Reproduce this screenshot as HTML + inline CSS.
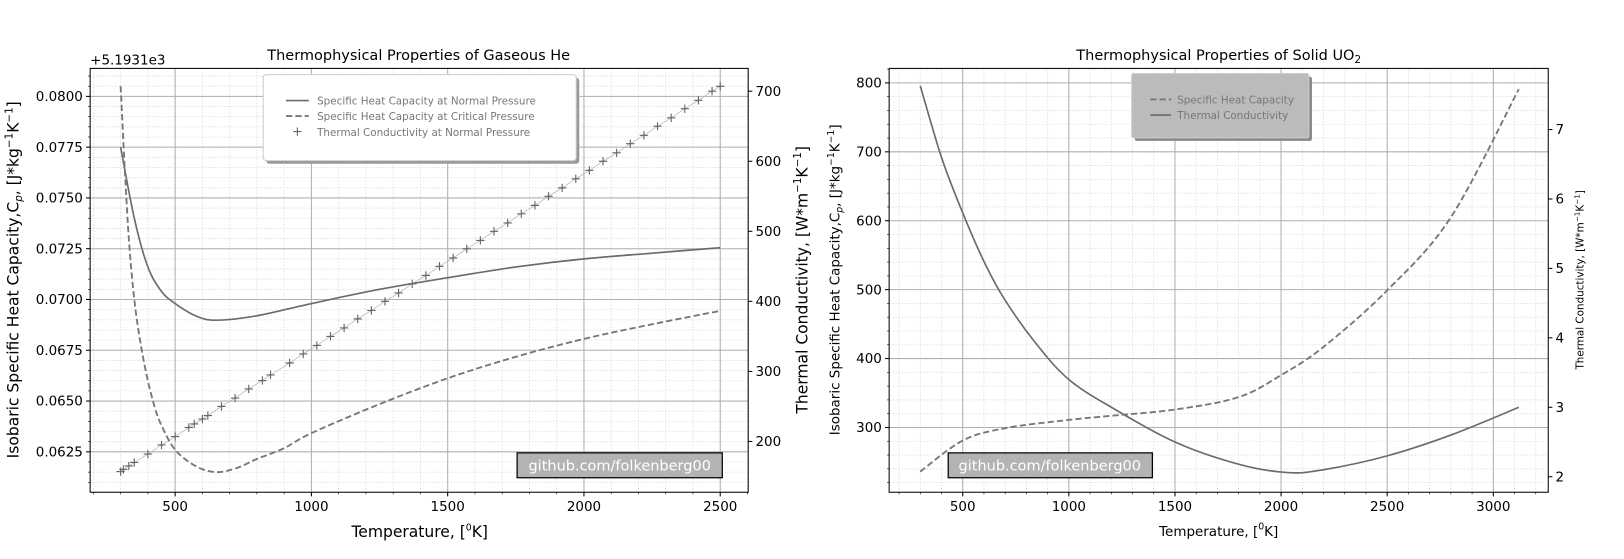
<!DOCTYPE html>
<html><head><meta charset="utf-8"><style>
body{margin:0;background:#fff;width:1624px;height:554px;overflow:hidden}
svg{font-family:"DejaVu Sans","Liberation Sans",sans-serif}
</style></head><body>
<svg id="s" width="1624" height="554"><g id="root" transform="scale(1.0363)"></g></svg>
<script>
// ---- data: Gaseous He ----
const heT = [300,350,400,450,500,575,650,800,1000,1250,1500,1750,2000,2250,2500];
const heCpNormal = [0.0775,0.0740,0.0716,0.0704,0.0698,0.0692,0.06898,0.0692,0.0698,0.0705,0.07107,0.0716,0.0720,0.07228,0.07255];
const heCritT = [300,315,330,350,375,400,425,450,500,575,650,725,800,900,1000,1250,1500,1750,2000,2250,2500];
const heCpCritical = [0.0805,0.0765,0.0730,0.0700,0.0677,0.0660,0.0647,0.0638,0.0626,0.0618,0.0615,0.0617,0.06215,0.06268,0.06342,0.06485,0.06612,0.06718,0.06806,0.06878,0.06944];
const heKT = [300,310,330,350,400,450,500,550,570,600,620,670,720,770,820,850,920,970,1020,1070,1120,1170,1220,1270,1320,1370,1420,1470,1520,1570,1620,1670,1720,1770,1820,1870,1920,1970,2020,2070,2120,2170,2220,2270,2320,2370,2420,2470,2500];
const heK = [157,160,165,170,182,195,207,220,225,232,237,250,262,275,287,295,312,325,337,350,362,375,387,400,412,425,437,450,462,475,487,500,512,525,537,550,562,575,587,600,612,625,637,650,662,675,687,700,707];
const heXTicks = [500,1000,1500,2000,2500];
const heYTicks = [0.0625,0.0650,0.0675,0.0700,0.0725,0.0750,0.0775,0.0800];
const heY2Ticks = [200,300,400,500,600,700];
// ---- data: Solid UO2 ----
const uoT = [300,500,700,1000,1200,1500,1800,2000,2200,2500,2800,3120];
const uoCp = [236,281,299,311,317,326,344,376,417,499,605,791];
const uoKT = [300,400,500,600,700,850,1000,1200,1500,1800,2030,2200,2500,2800,3120];
const uoK = [7.63,6.6,5.8,5.1,4.54,3.9,3.4,3.0,2.5,2.18,2.06,2.1,2.3,2.6,3.0];
const uoXTicks = [500,1000,1500,2000,2500,3000];
const uoYTicks = [300,400,500,600,700,800];
const uoY2Ticks = [2,3,4,5,6,7];

const S=document.getElementById('root'),NS='http://www.w3.org/2000/svg';
function el(t,a,p){const e=document.createElementNS(NS,t);for(const k in a)e.setAttribute(k,a[k]);(p||S).appendChild(e);return e;}
function txt(x,y,s,a,p){const e=el('text',Object.assign({x:x,y:y,fill:'#000','font-size':13},a),p);e.innerHTML=s;return e;}
function lin(d0,d1,r0,r1){return v=>r0+(v-d0)*(r1-r0)/(d1-d0);}
function path(xs,ys,fx,fy){
  const P=xs.map((v,i)=>[fx(v),fy(ys[i])]);
  let d='M'+P[0][0].toFixed(1)+','+P[0][1].toFixed(1);
  for(let i=0;i<P.length-1;i++){
    const p0=P[Math.max(0,i-1)],p1=P[i],p2=P[i+1],p3=P[Math.min(P.length-1,i+2)];
    const c1=[p1[0]+(p2[0]-p0[0])/6,p1[1]+(p2[1]-p0[1])/6];
    const c2=[p2[0]-(p3[0]-p1[0])/6,p2[1]-(p3[1]-p1[1])/6];
    d+='C'+c1[0].toFixed(1)+','+c1[1].toFixed(1)+' '+c2[0].toFixed(1)+','+c2[1].toFixed(1)+' '+p2[0].toFixed(1)+','+p2[1].toFixed(1);
  }
  return d;
}

function axes(box,fx,fy,fy2,xr,yr,xmin,ymin,xt,yt,y2t,yfmt,y2fmt,name){
  const g=el('g',{});
  
  
  el('rect',{x:box.x0,y:box.y0,width:box.x1-box.x0,height:box.y1-box.y0,fill:'#fff'},g);
  for(let v=Math.ceil(xr[0]/xmin)*xmin;v<=xr[1];v+=xmin){const x=fx(v);el('line',{x1:x,x2:x,y1:box.y0,y2:box.y1,stroke:'#ddd','stroke-width':0.8,'stroke-dasharray':'1.5,1.5'},g);el('line',{x1:x,x2:x,y1:box.y1,y2:box.y1+2,stroke:'#000','stroke-width':0.6},g);}
  for(let i=Math.ceil(yr[0]/ymin);i*ymin<=yr[1];i++){const y=fy(i*ymin);el('line',{x1:box.x0,x2:box.x1,y1:y,y2:y,stroke:'#ddd','stroke-width':0.8,'stroke-dasharray':'1.5,1.5'},g);el('line',{x1:box.x0-2,x2:box.x0,y1:y,y2:y,stroke:'#000','stroke-width':0.6},g);}
  xt.forEach(v=>{const x=fx(v);el('line',{x1:x,x2:x,y1:box.y0,y2:box.y1,stroke:'#b0b0b0','stroke-width':1},g);el('line',{x1:x,x2:x,y1:box.y1,y2:box.y1+4,stroke:'#000'},g);txt(x,box.y1+18,String(v),{'text-anchor':'middle'},g);});
  yt.forEach(v=>{const y=fy(v);el('line',{x1:box.x0,x2:box.x1,y1:y,y2:y,stroke:'#b0b0b0','stroke-width':1},g);el('line',{x1:box.x0-4,x2:box.x0,y1:y,y2:y,stroke:'#000'},g);txt(box.x0-7,y+4.5,yfmt(v),{'text-anchor':'end'},g);});
  y2t.forEach(v=>{const y=fy2(v);el('line',{x1:box.x1,x2:box.x1+4,y1:y,y2:y,stroke:'#000'},g);txt(box.x1+7,y+4.5,y2fmt(v),{},g);});
  return g;
}

// ===== Left chart =====
const B1={x0:87,x1:722,y0:66,y1:475};
const fx1=lin(500,2500,169,695), fy1=lin(0.0800,0.0625,93,436), fk1=lin(700,200,88,426);
const g1=axes(B1,fx1,fy1,fk1,[188,2603],[0.0606,0.0813],100,0.0005,heXTicks,heYTicks,heY2Ticks,v=>v.toFixed(4),v=>String(v),'he-chart');
let p=el('path',{d:path(heKT,heK,fx1,fk1),fill:'none',stroke:'#aaa','stroke-width':0.6},g1);

heKT.forEach((t,i)=>{const x=fx1(t),y=fk1(heK[i]);const m=el('path',{d:`M${x-4},${y}H${x+4}M${x},${y-4}V${y+4}`,stroke:'#666','stroke-width':1.1},g1);
 });
p=el('path',{d:path(heT,heCpNormal,fx1,fy1),fill:'none',stroke:'#6b6b6b','stroke-width':1.6},g1);

p=el('path',{d:path(heCritT,heCpCritical,fx1,fy1),fill:'none',stroke:'#777','stroke-width':1.8,'stroke-dasharray':'6,3'},g1);

el('rect',{x:B1.x0,y:B1.y0,width:B1.x1-B1.x0,height:B1.y1-B1.y0,fill:'none',stroke:'#000','stroke-width':1},g1);
let lg=el('g',{});
el('rect',{x:257,y:75,width:302,height:83,fill:'#999',rx:3},lg);
el('rect',{x:254,y:72,width:302,height:83,fill:'#fff',stroke:'#ccc',rx:3},lg);
el('line',{x1:276,x2:298,y1:97,y2:97,stroke:'#6b6b6b','stroke-width':1.6},lg);
el('line',{x1:276,x2:298,y1:112,y2:112,stroke:'#777','stroke-width':1.8,'stroke-dasharray':'6,3'},lg);
el('path',{d:'M283,127H291M287,123V131',stroke:'#666','stroke-width':1.1},lg);
txt(306,101,'Specific Heat Capacity at Normal Pressure',{'font-size':10,fill:'#777'},lg);
txt(306,116,'Specific Heat Capacity at Critical Pressure',{'font-size':10,fill:'#777'},lg);
txt(306,131,'Thermal Conductivity at Normal Pressure',{'font-size':10,fill:'#777'},lg);
let t=txt(404,58,'Thermophysical Properties of Gaseous He',{'text-anchor':'middle','font-size':14});
t=txt(87,62,'+5.1931e3',{'font-size':13});
t=txt(405,518,'Temperature, [<tspan font-size="9" dy="-6">0</tspan><tspan dy="6">K]</tspan>',{'text-anchor':'middle','font-size':15});
t=txt(0,0,'Isobaric Specific Heat Capacity,C<tspan font-size="10" dy="3" font-style="italic">p</tspan><tspan dy="-3">,  [J*kg</tspan><tspan font-size="10" dy="-6">−1</tspan><tspan dy="6">K</tspan><tspan font-size="10" dy="-6">−1</tspan><tspan dy="6">]</tspan>',{'text-anchor':'middle','font-size':15,transform:'translate(18,270) rotate(-90)'});
t=txt(0,0,'Thermal Conductivity, [W*m<tspan font-size="10" dy="-6">−1</tspan><tspan dy="6">K</tspan><tspan font-size="10" dy="-6">−1</tspan><tspan dy="6">]</tspan>',{'text-anchor':'middle','font-size':15,transform:'translate(779,270) rotate(-90)'});
let wm=el('g',{});
el('rect',{x:499,y:437,width:198,height:24,fill:'#b3b3b3',stroke:'#000','stroke-width':1.2},wm);
txt(598,454,'github.com/folkenberg00',{'text-anchor':'middle','font-size':14,fill:'#fff'},wm);

// ===== Right chart =====
const B2={x0:858,x1:1494,y0:66,y1:475};
const fx2=lin(500,3000,929,1441), fy2=lin(800,300,80,412.5), fk2=lin(2,7,460,125);
const g2=axes(B2,fx2,fy2,fk2,[156,3258],[206,821],100,20,uoXTicks,uoYTicks,uoY2Ticks,v=>String(v),v=>String(v),'uo2-chart');
p=el('path',{d:path(uoKT,uoK,fx2,fk2),fill:'none',stroke:'#6b6b6b','stroke-width':1.6},g2);

p=el('path',{d:path(uoT,uoCp,fx2,fy2),fill:'none',stroke:'#777','stroke-width':1.8,'stroke-dasharray':'6,3'},g2);

el('rect',{x:B2.x0,y:B2.y0,width:B2.x1-B2.x0,height:B2.y1-B2.y0,fill:'none',stroke:'#000','stroke-width':1},g2);
lg=el('g',{});
el('rect',{x:1095,y:74,width:171,height:62,fill:'#888',rx:2},lg);
el('rect',{x:1092,y:71,width:171,height:62,fill:'#bbb',stroke:'#ccc',rx:2},lg);
el('line',{x1:1110,x2:1130,y1:96,y2:96,stroke:'#777','stroke-width':1.8,'stroke-dasharray':'6,3'},lg);
el('line',{x1:1110,x2:1130,y1:111,y2:111,stroke:'#6b6b6b','stroke-width':1.6},lg);
txt(1136,100,'Specific Heat Capacity',{'font-size':10,fill:'#777'},lg);
txt(1136,115,'Thermal Conductivity',{'font-size':10,fill:'#777'},lg);
t=txt(1176,58,'Thermophysical Properties of Solid UO<tspan font-size="10" dy="3">2</tspan>',{'text-anchor':'middle','font-size':14});
t=txt(1176,517,'Temperature, [<tspan font-size="9" dy="-6">0</tspan><tspan dy="6">K]</tspan>',{'text-anchor':'middle','font-size':13});
t=txt(0,0,'Isobaric Specific Heat Capacity,C<tspan font-size="9" dy="3" font-style="italic">p</tspan><tspan dy="-3">,  [J*kg</tspan><tspan font-size="9" dy="-5">−1</tspan><tspan dy="5">K</tspan><tspan font-size="9" dy="-5">−1</tspan><tspan dy="5">]</tspan>',{'text-anchor':'middle','font-size':13,transform:'translate(810,270) rotate(-90)'});
t=txt(0,0,'Thermal Conductivity, [W*m<tspan font-size="7" dy="-4">−1</tspan><tspan dy="4">K</tspan><tspan font-size="7" dy="-4">−1</tspan><tspan dy="4">]</tspan>',{'text-anchor':'middle','font-size':10,transform:'translate(1528,270) rotate(-90)'});
wm=el('g',{});
el('rect',{x:915,y:437,width:197,height:24,fill:'#b3b3b3',stroke:'#000','stroke-width':1.2},wm);
txt(1013,454,'github.com/folkenberg00',{'text-anchor':'middle','font-size':14,fill:'#fff'},wm);
</script>
</body></html>
